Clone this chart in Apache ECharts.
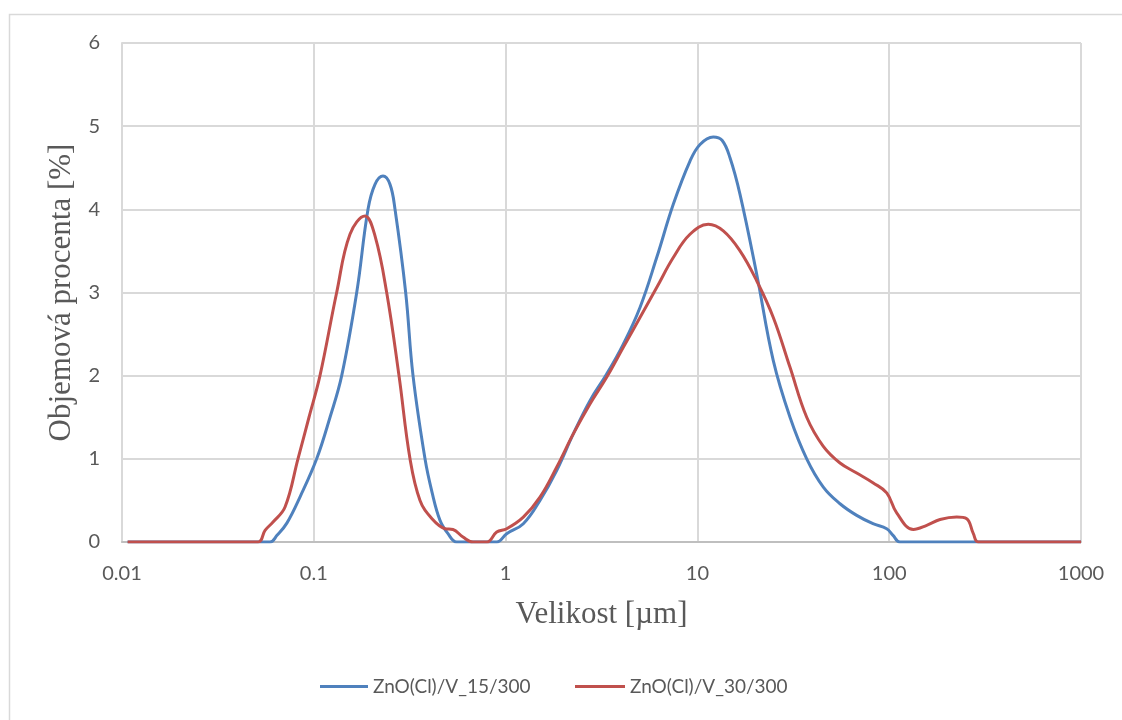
<!DOCTYPE html>
<html>
<head>
<meta charset="utf-8">
<script src="https://cdn.jsdelivr.net/npm/echarts@6/dist/echarts.min.js"></script>
<style>html,body{margin:0;padding:0;background:#fff}#c{width:1122px;height:720px}</style>
</head>
<body>
<div id="c"></div>
<script>
const seriesNames = ['ZnO(Cl)/V_15/300', 'ZnO(Cl)/V_30/300'];
const xTickLabels = ['0.01', '0.1', '1', '10', '100', '1000'];
const yTickLabels = ['0', '1', '2', '3', '4', '5', '6'];

const sizes15 = [0.0107, 0.03, 0.0591, 0.0643, 0.0725, 0.0847, 0.1035, 0.1215, 0.1398, 0.1674, 0.1917, 0.2085, 0.2295, 0.2496, 0.2651, 0.3013, 0.3291, 0.38, 0.4133, 0.455, 0.5008, 0.5559, 0.75, 0.8987, 1.013, 1.237, 1.511, 1.846, 2.254, 2.754, 3.365, 4.109, 5.02, 6.135, 7.486, 9.15, 10.32, 12.1, 13.44, 14.79, 16.68, 20.38, 24.87, 30.4, 37.15, 45.34, 55.4, 67.71, 82.32, 97.05, 104.7, 113.8, 300, 1000];
const values15 = [0, 0, 0, 0.08, 0.23, 0.54, 1.0, 1.5, 2.0, 3.0, 4.0, 4.3, 4.40, 4.3, 4.0, 3.0, 2.0, 1.0, 0.6, 0.26, 0.1, 0, 0, 0, 0.1, 0.22, 0.5, 0.86, 1.3, 1.7, 2.02, 2.38, 2.82, 3.42, 4.06, 4.58, 4.78, 4.87, 4.83, 4.62, 4.18, 3.22, 2.18, 1.5, 1.0, 0.66, 0.46, 0.32, 0.22, 0.16, 0.08, 0, 0, 0];

const sizes30 = [0.0107, 0.03, 0.0512, 0.0557, 0.0613, 0.0708, 0.0827, 0.0944, 0.1077, 0.1316, 0.1544, 0.1849, 0.2085, 0.2399, 0.2781, 0.3174, 0.3579, 0.4133, 0.4831, 0.5318, 0.5996, 0.6761, 0.7997, 0.8987, 1.013, 1.237, 1.511, 1.846, 2.254, 2.754, 3.365, 4.109, 5.02, 6.135, 7.486, 9.15, 11.4, 13.65, 16.68, 20.38, 24.87, 30.4, 37.15, 45.34, 55.4, 67.71, 82.62, 97.05, 109.4, 133.6, 156.9, 184.1, 224.9, 253.6, 274.6, 291.4, 1000];
const values30 = [0, 0, 0, 0.14, 0.24, 0.42, 1.0, 1.5, 2.0, 3.0, 3.7, 3.92, 3.68, 3.0, 2.0, 1.0, 0.5, 0.28, 0.16, 0.15, 0.06, 0, 0, 0.12, 0.16, 0.3, 0.54, 0.9, 1.3, 1.66, 1.98, 2.34, 2.7, 3.06, 3.42, 3.7, 3.82, 3.74, 3.5, 3.14, 2.7, 2.1, 1.5, 1.15, 0.95, 0.83, 0.71, 0.59, 0.35, 0.15, 0.2, 0.27, 0.3, 0.28, 0.1, 0, 0];

const pairs = (xs, ys) => xs.map((x, i) => [x, ys[i]]);
const txt = '#595959';

const chart = echarts.init(document.getElementById('c'), null, {renderer: 'canvas'});
chart.setOption({
  backgroundColor: '#ffffff',
  animation: false,
  graphic: [{
    type: 'rect', silent: true, z: -10,
    shape: {x: 9.5, y: 14.5, width: 1300, height: 900},
    style: {fill: null, stroke: '#d9d9d9', lineWidth: 1.5}
  }],
  grid: {left: 122, right: 41, top: 43, bottom: 178, containLabel: false},
  legend: [
    {data: [seriesNames[0]], left: 320, top: 677, padding: 0, itemWidth: 48, itemHeight: 3, icon: 'rect',
     textStyle: {color: txt, fontSize: 19, fontFamily: 'Lato'}},
    {data: [seriesNames[1]], left: 575, top: 677, padding: 0, itemWidth: 50, itemHeight: 3, icon: 'rect',
     textStyle: {color: txt, fontSize: 19, fontFamily: 'Lato'}}
  ],
  xAxis: {
    type: 'log', logBase: 10, min: 0.01, max: 1000,
    name: 'Velikost [µm]', nameLocation: 'middle', nameGap: 57,
    nameTextStyle: {color: txt, fontSize: 31, fontFamily: 'Liberation Serif'},
    axisLine: {show: true, lineStyle: {color: '#bfbfbf', width: 2}},
    axisTick: {show: false},
    axisLabel: {color: txt, fontSize: 20, fontFamily: 'Lato', margin: 22,
      formatter: v => xTickLabels[Math.round(Math.log10(v)) + 2]},
    splitLine: {show: true, lineStyle: {color: '#d9d9d9', width: 2}},
    minorTick: {show: false}, minorSplitLine: {show: false}
  },
  yAxis: {
    type: 'value', min: 0, max: 6, interval: 1,
    name: 'Objemová procenta [%]', nameLocation: 'middle', nameGap: 45,
    nameTextStyle: {color: txt, fontSize: 31, fontFamily: 'Liberation Serif'},
    axisLine: {show: true, lineStyle: {color: '#d9d9d9', width: 2}},
    axisTick: {show: false},
    axisLabel: {color: txt, fontSize: 20, fontFamily: 'Lato', margin: 22,
      formatter: v => yTickLabels[Math.round(v)]},
    splitLine: {show: true, lineStyle: {color: '#d9d9d9', width: 2}}
  },
  series: [
    {name: seriesNames[0], type: 'line', data: pairs(sizes15, values15), showSymbol: false, symbol: 'none',
     smooth: 0.4, lineStyle: {color: '#4F81BD', width: 3}, itemStyle: {color: '#4F81BD'}},
    {name: seriesNames[1], type: 'line', data: pairs(sizes30, values30), showSymbol: false, symbol: 'none',
     smooth: 0.4, lineStyle: {color: '#C0504D', width: 3}, itemStyle: {color: '#C0504D'}}
  ]
});
</script>
</body>
</html>
